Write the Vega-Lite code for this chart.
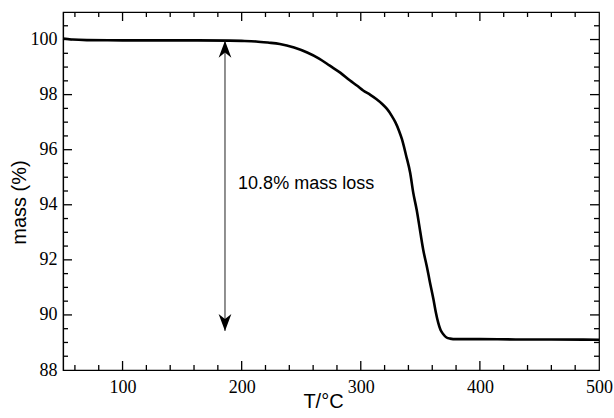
{
  "$schema": "https://vega.github.io/schema/vega-lite/v6.json",
  "width": 536,
  "height": 358,
  "autosize": "none",
  "padding": {"left": 63, "top": 12, "right": 15, "bottom": 48},
  "background": "white",
  "config": {
    "view": {"stroke": "#000000", "strokeWidth": 1.2},
    "axis": {
      "domainColor": "#000000", "domainWidth": 1.2, "grid": false,
      "labelFont": "Liberation Serif", "labelFontSize": 18, "labelColor": "#000000",
      "titleFont": "Liberation Sans", "titleFontSize": 20, "titleFontWeight": "normal", "titleColor": "#000000"
    }
  },
  "datasets": {
    "curve": [
      {"T": 50, "mass": 100.04}, {"T": 54, "mass": 100.02}, {"T": 58, "mass": 100.0},
      {"T": 70, "mass": 99.98}, {"T": 100, "mass": 99.97}, {"T": 150, "mass": 99.97},
      {"T": 190, "mass": 99.96}, {"T": 200, "mass": 99.95}, {"T": 212, "mass": 99.93},
      {"T": 222, "mass": 99.89}, {"T": 232, "mass": 99.84}, {"T": 244, "mass": 99.71},
      {"T": 255, "mass": 99.53}, {"T": 265, "mass": 99.31}, {"T": 274, "mass": 99.05},
      {"T": 283, "mass": 98.79}, {"T": 291, "mass": 98.51}, {"T": 297, "mass": 98.32},
      {"T": 302, "mass": 98.15}, {"T": 308, "mass": 97.99}, {"T": 313, "mass": 97.84},
      {"T": 318, "mass": 97.66}, {"T": 322, "mass": 97.48}, {"T": 326, "mass": 97.23},
      {"T": 329, "mass": 97.0}, {"T": 332, "mass": 96.7}, {"T": 334.5, "mass": 96.39},
      {"T": 338, "mass": 95.8}, {"T": 341.5, "mass": 95.15}, {"T": 344, "mass": 94.45},
      {"T": 347, "mass": 93.8}, {"T": 350, "mass": 93.0}, {"T": 352.5, "mass": 92.35},
      {"T": 355.5, "mass": 91.75}, {"T": 358, "mass": 91.2}, {"T": 361, "mass": 90.57},
      {"T": 363, "mass": 90.1}, {"T": 365, "mass": 89.72}, {"T": 367, "mass": 89.45},
      {"T": 369.3, "mass": 89.3}, {"T": 372, "mass": 89.18}, {"T": 375, "mass": 89.14},
      {"T": 380, "mass": 89.12}, {"T": 400, "mass": 89.12}, {"T": 430, "mass": 89.11},
      {"T": 460, "mass": 89.11}, {"T": 500, "mass": 89.1}
    ],
    "xticks": [
      {"v": 60, "k": "minor"}, {"v": 80, "k": "minor"}, {"v": 100, "k": "major"}, {"v": 120, "k": "minor"},
      {"v": 140, "k": "minor"}, {"v": 160, "k": "minor"}, {"v": 180, "k": "minor"}, {"v": 200, "k": "major"},
      {"v": 220, "k": "minor"}, {"v": 240, "k": "minor"}, {"v": 260, "k": "minor"}, {"v": 280, "k": "minor"},
      {"v": 300, "k": "major"}, {"v": 320, "k": "minor"}, {"v": 340, "k": "minor"}, {"v": 360, "k": "minor"},
      {"v": 380, "k": "minor"}, {"v": 400, "k": "major"}, {"v": 420, "k": "minor"}, {"v": 440, "k": "minor"},
      {"v": 460, "k": "minor"}, {"v": 480, "k": "minor"}
    ],
    "yticks": [
      {"v": 88.5, "k": "minor"}, {"v": 89, "k": "minor"}, {"v": 89.5, "k": "minor"}, {"v": 90, "k": "major"},
      {"v": 90.5, "k": "minor"}, {"v": 91, "k": "minor"}, {"v": 91.5, "k": "minor"}, {"v": 92, "k": "major"},
      {"v": 92.5, "k": "minor"}, {"v": 93, "k": "minor"}, {"v": 93.5, "k": "minor"}, {"v": 94, "k": "major"},
      {"v": 94.5, "k": "minor"}, {"v": 95, "k": "minor"}, {"v": 95.5, "k": "minor"}, {"v": 96, "k": "major"},
      {"v": 96.5, "k": "minor"}, {"v": 97, "k": "minor"}, {"v": 97.5, "k": "minor"}, {"v": 98, "k": "major"},
      {"v": 98.5, "k": "minor"}, {"v": 99, "k": "minor"}, {"v": 99.5, "k": "minor"}, {"v": 100, "k": "major"},
      {"v": 100.5, "k": "minor"}
    ],
    "arrow": [{"T": 186, "top": 99.96, "bottom": 89.42}],
    "heads": [{"T": 186, "m": 99.96, "dir": "up"}, {"T": 186, "m": 89.42, "dir": "down"}],
    "note": [{"T": 197, "m": 94.75, "label": "10.8% mass loss"}]
  },
  "layer": [
    {
      "data": {"name": "curve"},
      "mark": {"type": "line", "color": "black", "strokeWidth": 2.6, "interpolate": "monotone"},
      "encoding": {
        "x": {
          "field": "T", "type": "quantitative",
          "scale": {"domain": [50, 500], "nice": false, "zero": false},
          "axis": {
            "orient": "bottom", "values": [100, 200, 300, 400, 500], "format": "d",
            "ticks": false, "labelPadding": 8, "labelFlush": false, "labelOverlap": false,
            "labelFont": "Liberation Serif", "labelFontSize": 18,
            "title": "T/°C", "titleX": 260, "titleY": 37, "titleBaseline": "alphabetic"
          }
        },
        "y": {
          "field": "mass", "type": "quantitative",
          "scale": {"domain": [88, 101], "nice": false, "zero": false},
          "axis": {
            "orient": "left", "values": [88, 90, 92, 94, 96, 98, 100], "format": "d",
            "ticks": false, "labelPadding": 6, "labelFlush": false, "labelOverlap": false,
            "labelFont": "Liberation Serif", "labelFontSize": 18,
            "title": "mass (%)", "titleX": -38, "titleY": 190, "titleBaseline": "alphabetic"
          }
        }
      }
    },
    {
      "data": {"name": "xticks"},
      "mark": {"type": "tick", "orient": "vertical", "thickness": 1.3, "color": "#000000", "opacity": 1, "clip": true},
      "encoding": {
        "x": {"field": "v", "type": "quantitative"},
        "y": {"datum": 88},
        "size": {"condition": {"test": "datum.k === 'major'", "value": 18}, "value": 10}
      }
    },
    {
      "data": {"name": "xticks"},
      "mark": {"type": "tick", "orient": "vertical", "thickness": 1.3, "color": "#000000", "opacity": 1, "clip": true},
      "encoding": {
        "x": {"field": "v", "type": "quantitative"},
        "y": {"datum": 101},
        "size": {"condition": {"test": "datum.k === 'major'", "value": 18}, "value": 10}
      }
    },
    {
      "data": {"name": "yticks"},
      "mark": {"type": "tick", "orient": "horizontal", "thickness": 1.3, "color": "#000000", "opacity": 1, "clip": true},
      "encoding": {
        "y": {"field": "v", "type": "quantitative"},
        "x": {"datum": 50},
        "size": {"condition": {"test": "datum.k === 'major'", "value": 18}, "value": 10}
      }
    },
    {
      "data": {"name": "yticks"},
      "mark": {"type": "tick", "orient": "horizontal", "thickness": 1.3, "color": "#000000", "opacity": 1, "clip": true},
      "encoding": {
        "y": {"field": "v", "type": "quantitative"},
        "x": {"datum": 500},
        "size": {"condition": {"test": "datum.k === 'major'", "value": 18}, "value": 10}
      }
    },
    {
      "data": {"name": "arrow"},
      "mark": {"type": "rule", "color": "#222222", "strokeWidth": 1},
      "encoding": {
        "x": {"field": "T", "type": "quantitative"},
        "y": {"field": "top", "type": "quantitative"},
        "y2": {"field": "bottom"}
      }
    },
    {
      "data": {"name": "heads"},
      "mark": {"type": "point", "filled": true, "color": "black", "opacity": 1, "size": 289, "strokeWidth": 0},
      "encoding": {
        "x": {"field": "T", "type": "quantitative"},
        "y": {"field": "m", "type": "quantitative"},
        "shape": {
          "field": "dir", "type": "nominal", "legend": null,
          "scale": {"domain": ["up", "down"], "range": ["M0,0L0.75,2L0,1.4L-0.75,2Z", "M0,0L0.75,-2L0,-1.4L-0.75,-2Z"]}
        }
      }
    },
    {
      "data": {"name": "note"},
      "mark": {"type": "text", "align": "left", "baseline": "middle", "font": "Liberation Sans", "fontSize": 18, "color": "black"},
      "encoding": {
        "x": {"field": "T", "type": "quantitative"},
        "y": {"field": "m", "type": "quantitative"},
        "text": {"field": "label"}
      }
    }
  ]
}
